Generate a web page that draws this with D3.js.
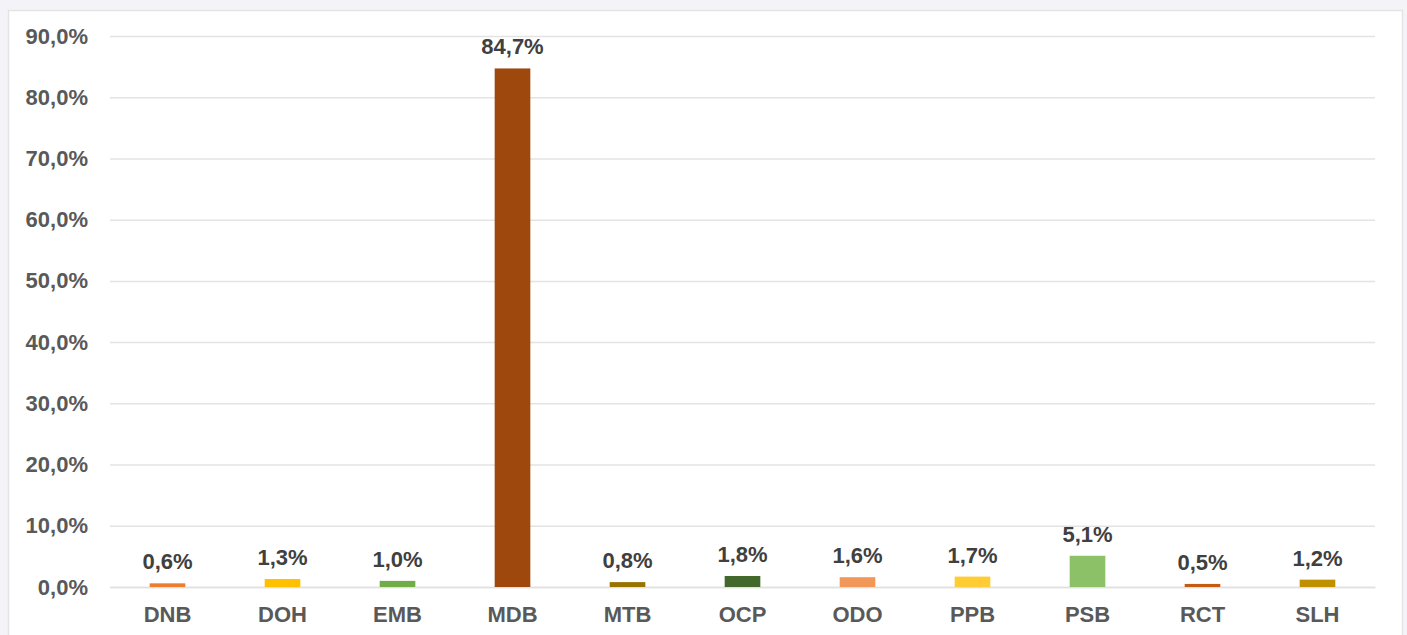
<!DOCTYPE html>
<html>
<head>
<meta charset="utf-8">
<script src="https://cdn.jsdelivr.net/npm/d3@7"></script>
<style>
  html, body { margin: 0; padding: 0; background: #f4f3f8; }
  svg { display: block; }
  text { font-family: "Liberation Sans", Arial, sans-serif; font-weight: bold; }
</style>
</head>
<body>
<svg id="chart" width="1407" height="635"></svg>
<script>
// Share of each code (percent)
const categories = ["DNB", "DOH", "EMB", "MDB", "MTB", "OCP", "ODO", "PPB", "PSB", "RCT", "SLH"];
const values = [0.6, 1.3, 1.0, 84.7, 0.8, 1.8, 1.6, 1.7, 5.1, 0.5, 1.2];
const barColors = ["#ED7D31", "#FFC000", "#70AD47", "#9E480E", "#997300", "#43682B",
                   "#F1975A", "#FFCD33", "#8CC168", "#C55A11", "#BF9000"];
const yTicks = [0, 10, 20, 30, 40, 50, 60, 70, 80, 90];

const svg = d3.select("#chart");
const W = 1407, H = 635;

// chart panel
svg.append("rect")
  .attr("x", 8.5).attr("y", 10.5)
  .attr("width", 1394).attr("height", H)
  .attr("fill", "#ffffff")
  .attr("stroke", "#e4e4e4").attr("stroke-width", 1.5);

const plot = { left: 110, right: 1375, top: 36, bottom: 587 };

const x = d3.scaleBand()
  .domain(categories)
  .range([plot.left, plot.right])
  .paddingInner(0.69)
  .paddingOuter(0.345);

const y = d3.scaleLinear()
  .domain([0, 90])
  .range([plot.bottom, plot.top]);

const fmt = v => d3.format(".1f")(v).replace(".", ",") + "%";

// gridlines and value axis
const yAxis = d3.axisLeft(y)
  .tickValues(yTicks)
  .tickSize(-(plot.right - plot.left))
  .tickPadding(22)
  .tickFormat(fmt);

const gy = svg.append("g")
  .attr("transform", `translate(${plot.left},0)`)
  .call(yAxis);
gy.select(".domain").remove();
gy.selectAll(".tick line").attr("stroke", "#e3e3e3").attr("stroke-width", 1.5);
gy.selectAll(".tick text")
  .attr("fill", "#595959")
  .attr("font-size", 22)
  .attr("font-family", "Liberation Sans, Arial, sans-serif")
  .attr("font-weight", "bold");

// category axis
const xAxis = d3.axisBottom(x).tickSize(0).tickPadding(19);
const gx = svg.append("g")
  .attr("transform", `translate(0,${plot.bottom})`)
  .call(xAxis);
gx.select(".domain").attr("stroke", "#e0e0e0").attr("stroke-width", 1.5);
gx.selectAll(".tick text")
  .attr("fill", "#595959")
  .attr("font-size", 22)
  .attr("font-family", "Liberation Sans, Arial, sans-serif")
  .attr("font-weight", "bold");

// bars
svg.append("g").selectAll("rect")
  .data(categories)
  .join("rect")
  .attr("x", d => x(d))
  .attr("width", x.bandwidth())
  .attr("y", (d, i) => y(values[i]))
  .attr("height", (d, i) => y(0) - y(values[i]))
  .attr("fill", (d, i) => barColors[i]);

// value labels
svg.append("g").selectAll("text")
  .data(categories)
  .join("text")
  .attr("x", d => x(d) + x.bandwidth() / 2)
  .attr("y", (d, i) => y(values[i]) - 14)
  .attr("text-anchor", "middle")
  .attr("fill", "#404040")
  .attr("font-size", 22)
  .text((d, i) => fmt(values[i]));
</script>
</body>
</html>
